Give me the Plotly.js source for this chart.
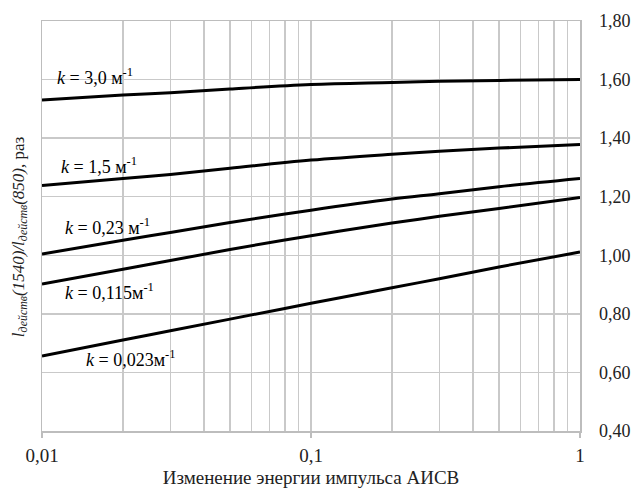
<!DOCTYPE html>
<html><head><meta charset="utf-8">
<script src="https://cdn.plot.ly/plotly-3.0.1.min.js"></script>
<style>body{margin:0;padding:0;background:#fff}#chart{width:632px;height:488px}</style>
</head><body><div id="chart"></div>
<script>
// Energy change (x, log scale)
const energy = [0.01, 0.02, 0.03, 0.05, 0.1, 0.2, 0.3, 0.5, 1];
// Ratio curves for each k
const k3_0   = [1.530, 1.547, 1.555, 1.568, 1.583, 1.590, 1.594, 1.597, 1.600];
const k1_5   = [1.238, 1.262, 1.276, 1.297, 1.325, 1.345, 1.355, 1.366, 1.378];
const k0_23  = [1.004, 1.051, 1.078, 1.112, 1.154, 1.192, 1.210, 1.234, 1.262];
const k0_115 = [0.902, 0.952, 0.982, 1.020, 1.067, 1.110, 1.133, 1.160, 1.197];
const k0_023 = [0.656, 0.711, 0.742, 0.782, 0.836, 0.889, 0.920, 0.960, 1.011];
const seriesLabels = ['<i>k</i> = 3,0 м<sup>-1</sup>', '<i>k</i> = 1,5 м<sup>-1</sup>',
  '<i>k</i> = 0,23 м<sup>-1</sup>', '<i>k</i> = 0,115м<sup>-1</sup>', '<i>k</i> = 0,023м<sup>-1</sup>'];
const xTickVals = [0.01, 0.1, 1];
const xTickText = ['0,01', '0,1', '1'];
const xMinorVals = [0.02,0.03,0.04,0.05,0.06,0.07,0.08,0.09,0.2,0.3,0.4,0.5,0.6,0.7,0.8,0.9];

const series = [k3_0, k1_5, k0_23, k0_115, k0_023];
const labelPos = [[-1.952, 1.609], [-1.937, 1.308], [-1.922, 1.097], [-1.922, 0.875], [-1.844, 0.646]];
const FONT = 'Liberation Serif';

const traces = series.map((s, i) => ({
  x: energy, y: s, type: 'scatter', mode: 'lines', name: seriesLabels[i],
  line: {color: '#000', width: 3, shape: 'spline', smoothing: 1}, hoverinfo: 'skip'
}));

const annotations = labelPos.map((p, i) => ({
  x: p[0], y: p[1], xref: 'x', yref: 'y', text: seriesLabels[i], showarrow: false,
  xanchor: 'left', yanchor: 'middle', font: {family: FONT, size: 18, color: '#000'}
}));
annotations.push({
  xref: 'paper', yref: 'paper', x: -0.041, y: 0.475, textangle: -90, showarrow: false,
  text: '<i>l<sub>действ</sub>(1540)/l<sub>действ</sub>(850),</i> раз',
  font: {family: FONT, size: 17, color: '#222'}, xanchor: 'center', yanchor: 'middle'
});

const layout = {
  width: 632, height: 488,
  margin: {l: 42, r: 52, t: 21, b: 57},
  paper_bgcolor: '#fff', plot_bgcolor: '#fff',
  showlegend: false,
  separators: ', ',
  font: {family: FONT, size: 19, color: '#222'},
  xaxis: {
    type: 'log', range: [-2, 0],
    tickmode: 'array', tickvals: xTickVals, ticktext: xTickText,
    showgrid: true, gridcolor: '#c9c9c9', gridwidth: 1.5,
    minor: {tickmode: 'array', tickvals: xMinorVals, showgrid: true, gridcolor: '#c9c9c9', gridwidth: 1.5, ticks: ''},
    showline: true, linecolor: '#bdbdbd', linewidth: 1.5, mirror: true,
    ticks: 'outside', ticklen: 5, tickcolor: '#bdbdbd', tickwidth: 1.5,
    ticklabelstandoff: 2, zeroline: false,
    tickfont: {family: FONT, size: 19, color: '#222'},
    title: {text: 'Изменение энергии импульса АИСВ', font: {family: FONT, size: 19, color: '#222'}, standoff: 5}
  },
  yaxis: {
    side: 'right', range: [0.4, 1.8], dtick: 0.2, tick0: 0.4, tickformat: '.2f',
    showgrid: true, gridcolor: '#c9c9c9', gridwidth: 1.5,
    showline: true, linecolor: '#bdbdbd', linewidth: 1.5, mirror: true,
    ticks: '', ticklabelstandoff: 14, zeroline: false,
    tickfont: {family: FONT, size: 18, color: '#222'}
  },
  annotations: annotations
};
Plotly.newPlot('chart', traces, layout, {staticPlot: true, displayModeBar: false});
</script></body></html>
